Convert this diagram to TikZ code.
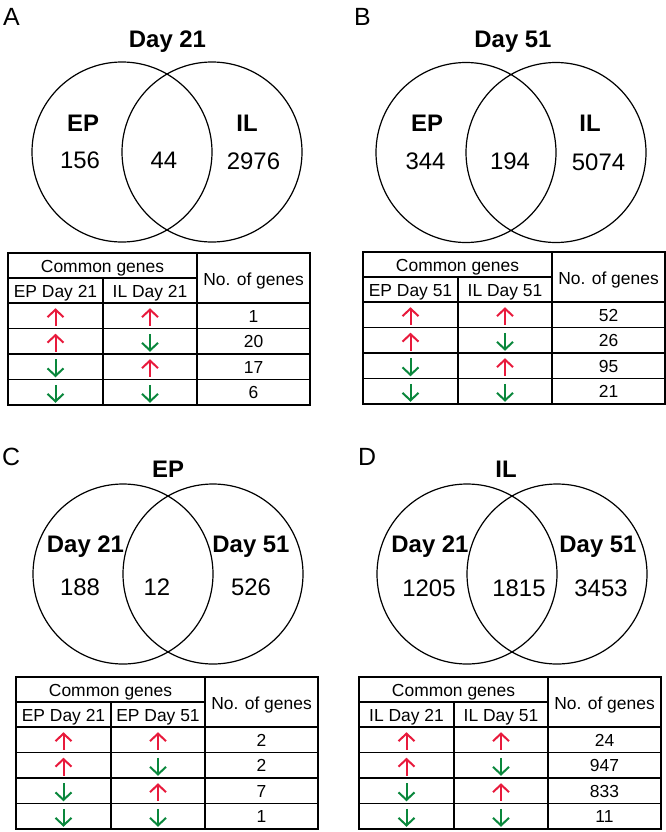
\documentclass[tikz,border=0pt]{standalone}
\usepackage{fontspec}
\setmainfont{Liberation Sans}
\usetikzlibrary{arrows.meta}
\definecolor{upred}{RGB}{232,26,60}
\definecolor{downgreen}{RGB}{10,135,60}
\tikzset{
  venn/.style={line width=1.2bp},
  grid/.style={line width=1.6bp},
  setlabel/.style={font=\fontsize{24}{24}\selectfont\bfseries, anchor=base, inner sep=0},
  count/.style={font=\fontsize{24}{24}\selectfont, anchor=base, inner sep=0},
  panel/.style={font=\fontsize{25}{25}\selectfont, anchor=base west, inner sep=0},
  cell/.style={font=\fontsize{17.5}{17.5}\selectfont, anchor=base, inner sep=0},
  uparr/.style={upred, line width=2bp, {Straight Barb[length=7.5bp,width=16bp]}-},
  downarr/.style={downgreen, line width=2bp, -{Straight Barb[length=7.5bp,width=16bp]}},
}
\begin{document}
\begin{tikzpicture}[x=1bp,y=-1bp]
  \useasboundingbox (0,0) rectangle (666,832);
  % panel letters
  \node[panel] (lab-a) at (3,25) {A};
  \node[panel] (lab-b) at (354,25) {B};
  \node[panel] (lab-c) at (2,465) {C};
  \node[panel] (lab-d) at (358,465) {D};

  % A: Day 21
  \begin{scope}[shift={(122,152)}]
    \draw[venn] (0,0) circle (90) (90,0) circle (90);
    \node[setlabel] (a-title) at (45.5,-105) {Day 21};
    \node[setlabel] (a-ep) at (-39,-21) {EP};
    \node[setlabel] (a-il) at (125,-21) {IL};
    \node[count] (a-left) at (-42,16) {156};
    \node[count] (a-mid) at (42,16) {44};
    \node[count] (a-right) at (131.5,17) {2976};
  \end{scope}

  % B: Day 51
  \begin{scope}[shift={(466,152.5)}]
    \draw[venn] (0,0) circle (90) (90,0) circle (90);
    \node[setlabel] (b-title) at (47,-105.5) {Day 51};
    \node[setlabel] (b-ep) at (-39,-21) {EP};
    \node[setlabel] (b-il) at (124,-21) {IL};
    \node[count] (b-left) at (-40.5,17) {344};
    \node[count] (b-mid) at (44,17) {194};
    \node[count] (b-right) at (132.5,17.5) {5074};
  \end{scope}

  % C: EP
  \begin{scope}[shift={(123,574)}]
    \draw[venn] (0,0) circle (90) (90,0) circle (90);
    \node[setlabel] (c-title) at (45,-97) {EP};
    \node[setlabel] (c-d21) at (-37.5,-22) {Day 21};
    \node[setlabel] (c-d51) at (128,-22) {Day 51};
    \node[count] (c-left) at (-43,21) {188};
    \node[count] (c-mid) at (34,21) {12};
    \node[count] (c-right) at (128,21) {526};
  \end{scope}

  % D: IL
  \begin{scope}[shift={(467,574)}]
    \draw[venn] (0,0) circle (90) (90,0) circle (90);
    \node[setlabel] (d-title) at (39,-97) {IL};
    \node[setlabel] (d-d21) at (-37,-22) {Day 21};
    \node[setlabel] (d-d51) at (131,-22) {Day 51};
    \node[count] (d-left) at (-38,22) {1205};
    \node[count] (d-mid) at (52,22) {1815};
    \node[count] (d-right) at (134,22) {3453};
  \end{scope}

  % tables of common genes
  \foreach \p/\tx/\ty/\ha/\hb/\na/\nb/\nc/\nd in {
      a/8/253/EP Day 21/IL Day 21/1/20/17/6,
      b/363/252/EP Day 51/IL Day 51/52/26/95/21,
      c/16/677/EP Day 21/EP Day 51/2/2/7/1,
      d/359/677/IL Day 21/IL Day 51/24/947/833/11}{
    \begin{scope}[shift={(\tx,\ty)}]
      \draw[grid] (0,0) rectangle (302,152);
      \draw[grid] (0,25) -- (189,25) (0,50) -- (302,50)
        (95,25) -- (95,152) (189,0) -- (189,152);
      \foreach \y in {75.5,101,126.5} \draw[grid] (0,\y) -- (302,\y);
      \node[cell] (\p-common) at (94.5,19.5) {Common genes};
      \node[cell] (\p-h1) at (47.5,44) {\ha};
      \node[cell] (\p-h2) at (142,44) {\hb};
      \node[cell] (\p-count) at (245.5,32) {No. of genes};
      \foreach \sa/\sb/\n [count=\r] in {uparr/uparr/\na, uparr/downarr/\nb,
          downarr/uparr/\nc, downarr/downarr/\nd}{
        \pgfmathsetmacro\yc{50+25.5*(\r-1)+12.75}
        \draw[\sa] (47.5,\yc-7.5) -- (47.5,\yc+10.5);
        \draw[\sb] (142,\yc-7.5) -- (142,\yc+10.5);
        \node[cell] (\p-n\r) at (245.5,\yc+6.3) {\n};
      }
    \end{scope}
  }
\end{tikzpicture}
\end{document}
